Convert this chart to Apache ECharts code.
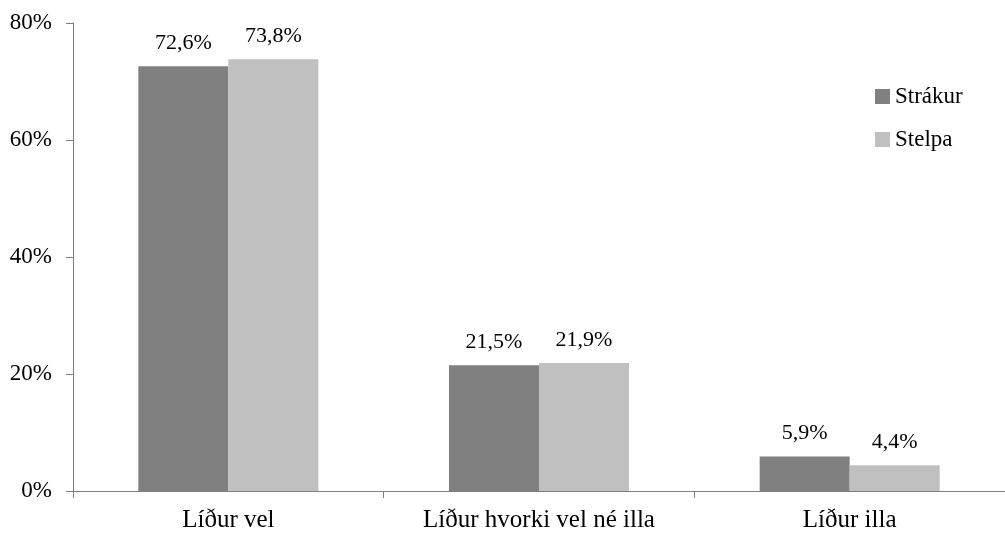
<!DOCTYPE html>
<html>
<head>
<meta charset="utf-8">
<script src="https://cdn.jsdelivr.net/npm/echarts@6/dist/echarts.min.js"></script>
<style>
  html, body { margin: 0; padding: 0; background: #fff; }
  #chart { width: 1005px; height: 543px; }
</style>
</head>
<body>
<div id="chart"></div>
<script>
const categories = ["Líður vel", "Líður hvorki vel né illa", "Líður illa"];
const strakur = [72.6, 21.5, 5.9];
const stelpa = [73.8, 21.9, 4.4];
const yTicks = [0, 20, 40, 60, 80];

const font = "Liberation Serif, Times New Roman, serif";
const axisColor = "#7f7f7f";

const chart = echarts.init(document.getElementById("chart"));

const labelFmt = p => p.value.toFixed(1).replace(".", ",") + "%";

chart.setOption({
  animation: false,
  textStyle: { fontFamily: font, color: "#000" },
  grid: { left: 73, right: 0, top: 23, bottom: 52, containLabel: false },
  legend: {
    orient: "vertical",
    left: 870,
    top: 80,
    itemWidth: 15,
    itemHeight: 15,
    itemGap: 20,
    icon: "rect",
    textStyle: { fontFamily: font, fontSize: 23, color: "#000" },
    data: ["Strákur", "Stelpa"]
  },
  xAxis: {
    type: "category",
    data: categories,
    axisLine: { lineStyle: { color: axisColor } },
    axisTick: { show: true, length: 7, lineStyle: { color: axisColor } },
    axisLabel: { fontFamily: font, fontSize: 25, color: "#000", margin: 17 }
  },
  yAxis: {
    type: "value",
    min: yTicks[0],
    max: yTicks[yTicks.length - 1],
    interval: 20,
    splitLine: { show: false },
    axisLine: { show: true, lineStyle: { color: axisColor } },
    axisTick: { show: true, length: 7, lineStyle: { color: axisColor } },
    axisLabel: { fontFamily: font, fontSize: 23, color: "#000", margin: 21, formatter: v => v + "%" }
  },
  series: [
    {
      name: "Strákur",
      type: "bar",
      data: strakur,
      barWidth: 90,
      barGap: "0%",
      itemStyle: { color: "#808080" },
      label: { show: true, position: "top", distance: 12, fontFamily: font, fontSize: 22, color: "#000", formatter: labelFmt }
    },
    {
      name: "Stelpa",
      type: "bar",
      data: stelpa,
      barWidth: 90,
      barGap: "0%",
      itemStyle: { color: "#c0c0c0" },
      label: { show: true, position: "top", distance: 12, fontFamily: font, fontSize: 22, color: "#000", formatter: labelFmt }
    }
  ]
});
</script>
</body>
</html>
